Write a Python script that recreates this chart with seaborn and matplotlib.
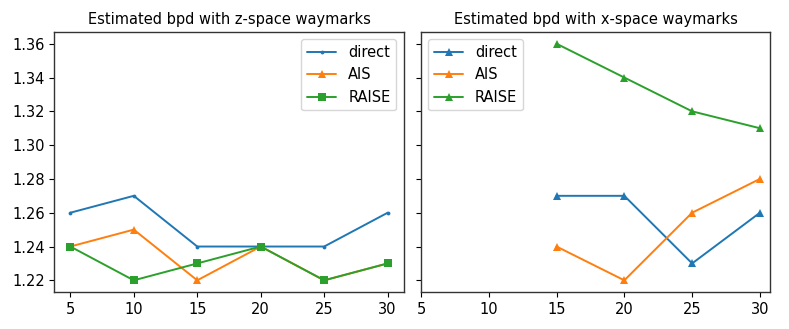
import numpy as np
import pandas as pd
import matplotlib
matplotlib.use('Agg')
import matplotlib.pyplot as plt
import seaborn as sns

# number of waymarks on the x axis
steps_z = [5, 10, 15, 20, 25, 30]
steps_x = [15, 20, 25, 30]

# estimated bpd, z-space waymarks
z_direct = [1.26, 1.27, 1.24, 1.24, 1.24, 1.26]
z_ais = [1.24, 1.25, 1.22, 1.24, 1.22, 1.23]
z_raise = [1.24, 1.22, 1.23, 1.24, 1.22, 1.23]

# estimated bpd, x-space waymarks
x_direct = [1.27, 1.27, 1.23, 1.26]
x_ais = [1.24, 1.22, 1.26, 1.28]
x_raise = [1.36, 1.34, 1.32, 1.31]

methods = ['direct', 'AIS', 'RAISE']
colors = ['#1f77b4', '#ff7f0e', '#2ca02c']

sns.set_style('ticks')
plt.rcParams['font.family'] = ['DejaVu Sans']
plt.rcParams['axes.linewidth'] = 1.0
plt.rcParams['text.color'] = 'black'
plt.rcParams['axes.labelcolor'] = 'black'
plt.rcParams['xtick.color'] = 'black'
plt.rcParams['ytick.color'] = 'black'
fs = 10.5

fig, axes = plt.subplots(1, 2, figsize=(7.89, 3.29), dpi=100, sharey=True)
fig.subplots_adjust(left=0.069, right=0.976, top=0.903, bottom=0.112, wspace=0.05)

# left panel
ax = axes[0]
for vals, name, c, m, ms in zip([z_direct, z_ais, z_raise], methods, colors,
                                ['.', '^', 's'], [5.5, 6, 6]):
    sns.lineplot(x=steps_z, y=vals, ax=ax, color=c, marker=m, markersize=ms,
                 markeredgewidth=0, label=name, linewidth=1.4)
ax.set_title('Estimated bpd with z-space waymarks', fontsize=fs)
ax.legend(loc='upper right', fontsize=fs, handlelength=2)

# right panel
ax = axes[1]
for vals, name, c in zip([x_direct, x_ais, x_raise], methods, colors):
    sns.lineplot(x=steps_x, y=vals, ax=ax, color=c, marker='^', markersize=6,
                 markeredgewidth=0, label=name, linewidth=1.4)
ax.set_title('Estimated bpd with x-space waymarks', fontsize=fs)
ax.legend(loc='upper left', fontsize=fs, handlelength=2)
ax.set_xlim(left=5)

for ax in axes:
    ax.set_xticks([5, 10, 15, 20, 25, 30])
    ax.set_yticks([1.22, 1.24, 1.26, 1.28, 1.30, 1.32, 1.34, 1.36])
    ax.tick_params(labelsize=fs, length=3.5, colors='black')
    for s in ax.spines.values():
        s.set_visible(True)
        s.set_color('#333333')

plt.savefig('out.png', dpi=100)
plt.close()
